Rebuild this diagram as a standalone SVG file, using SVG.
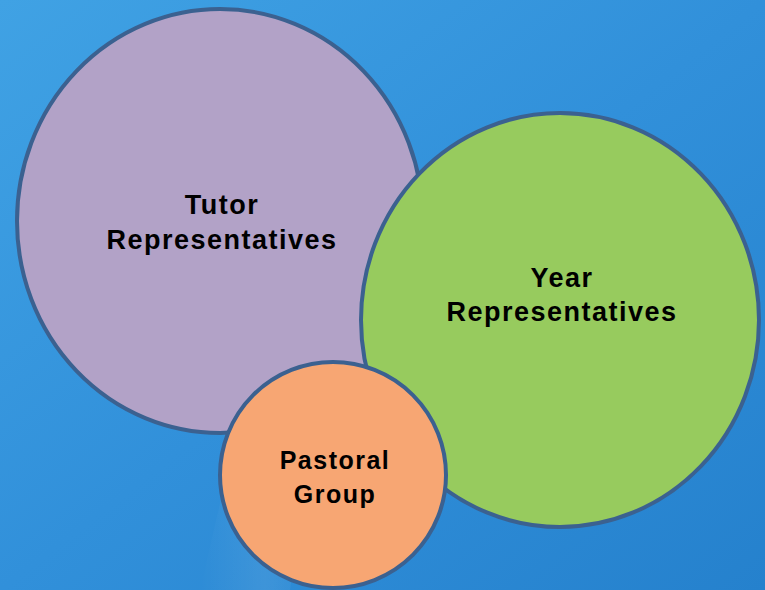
<svg xmlns="http://www.w3.org/2000/svg" width="765" height="590" viewBox="0 0 765 590">
  <defs>
    <linearGradient id="bg" x1="0" y1="0" x2="1" y2="1">
      <stop offset="0" stop-color="#40a2e4"/>
      <stop offset="0.5" stop-color="#3190da"/>
      <stop offset="1" stop-color="#2581cd"/>
    </linearGradient>
    <linearGradient id="streak" x1="0" y1="0" x2="1" y2="0">
      <stop offset="0" stop-color="#ffffff" stop-opacity="0"/>
      <stop offset="0.5" stop-color="#ffffff" stop-opacity="0.08"/>
      <stop offset="1" stop-color="#ffffff" stop-opacity="0"/>
    </linearGradient>
  </defs>
  <style>
    .c { stroke: #3b6190; stroke-width: 4; }
    .t { font-family: "Liberation Sans", Arial, sans-serif; font-weight: bold; fill: #000; text-anchor: middle; letter-spacing: 1.5px; }
  </style>
  <rect width="765" height="590" fill="url(#bg)"/>
  <polygon points="200,590 260,330 330,330 290,590" fill="url(#streak)"/>
  <g id="tutor">
    <ellipse class="c" cx="220" cy="221" rx="203" ry="212" fill="#b2a2c7"/>
    <text class="t" x="222" y="214" font-size="27">Tutor</text>
    <text class="t" x="222" y="249" font-size="27">Representatives</text>
  </g>
  <g id="year">
    <ellipse class="c" cx="560" cy="320" rx="199" ry="207" fill="#97cb5e"/>
    <text class="t" x="562" y="287" font-size="27">Year</text>
    <text class="t" x="562" y="321" font-size="27">Representatives</text>
  </g>
  <g id="pastoral">
    <ellipse class="c" cx="333" cy="475" rx="113" ry="113" fill="#f7a673"/>
    <text class="t" x="335" y="469" font-size="25">Pastoral</text>
    <text class="t" x="335" y="503" font-size="25">Group</text>
  </g>
  <g id="connectors"/>
</svg>
